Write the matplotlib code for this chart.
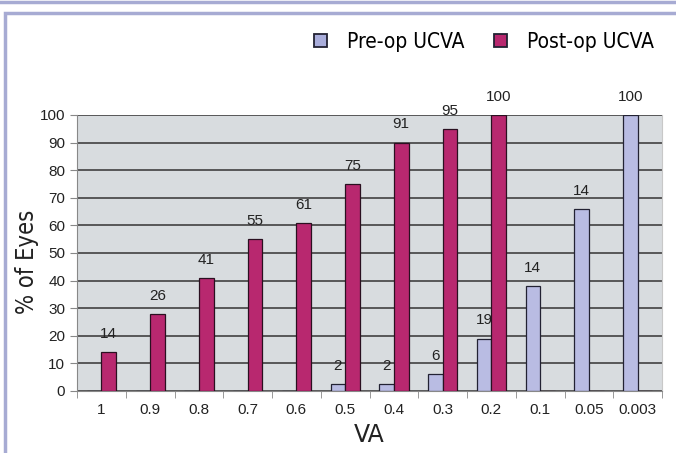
import numpy as np
import matplotlib
matplotlib.use("Agg")
from matplotlib import pyplot as plt
from matplotlib.patches import Rectangle
from matplotlib.lines import Line2D
from matplotlib.font_manager import FontProperties

# data
categories = ["1", "0.9", "0.8", "0.7", "0.6", "0.5", "0.4", "0.3", "0.2", "0.1", "0.05", "0.003"]
pre_op = [0, 0, 0, 0, 0, 2.4, 2.4, 6, 19, 38, 66, 100]
post_op = [14, 28, 41, 55, 61, 75, 90, 95, 100, 0, 0, 0]
pre_labels = ["", "", "", "", "", "2", "2", "6", "19", "14", "14", "100"]
post_labels = ["14", "26", "41", "55", "61", "75", "91", "95", "100", "", "", ""]

pre_col = "#b9bce3"
post_col = "#b8286f"
frame_col = "#a7abd3"
txt = "#222222"

plt.rcParams["font.family"] = ["Liberation Sans", "DejaVu Sans"]

fig = plt.figure(figsize=(6.76, 4.53), dpi=100)

# outer frame
fig.add_artist(Line2D([0, 1], [1 - 1.5/453, 1 - 1.5/453], color=frame_col, lw=2.5))
fig.add_artist(Rectangle((5/676, -0.1), 1.2, 1.1 - 13/453, transform=fig.transFigure,
                         fill=False, edgecolor=frame_col, lw=2.5))

ax = fig.add_axes([77/676, 62/453, 585/676, 276/453])
ax.set_facecolor("#d8dcdf")

x = np.arange(len(categories))
w = 0.3
ax.bar(x - w/2, pre_op, w, color=pre_col, edgecolor="#222233", linewidth=0.9, zorder=3)
ax.bar(x + w/2, post_op, w, color=post_col, edgecolor="#2a1020", linewidth=0.9, zorder=3)

for i in range(len(categories)):
    if pre_labels[i]:
        ax.annotate(pre_labels[i], (x[i] - w/2, pre_op[i]), xytext=(0, 8), textcoords="offset points",
                    ha="center", va="bottom", fontsize=11, color=txt, annotation_clip=False)
    if post_labels[i]:
        ax.annotate(post_labels[i], (x[i] + w/2, post_op[i]), xytext=(0, 8), textcoords="offset points",
                    ha="center", va="bottom", fontsize=11, color=txt, annotation_clip=False)

ax.set_xlim(-0.5, len(categories) - 0.5)
ax.set_ylim(0, 100)
ax.set_yticks(np.arange(0, 101, 10))
ax.yaxis.grid(True, color="#4d4d4d", lw=1.3, zorder=1)
ax.set_axisbelow(True)
ax.set_xticks(x)
ax.set_xticklabels(categories)
ax.set_xticks(np.arange(-0.5, len(categories)), minor=True)
ax.tick_params(axis="x", which="major", length=0, labelsize=11, pad=9, colors=txt)
ax.tick_params(axis="x", which="minor", length=5, color="#888888")
ax.tick_params(axis="y", length=5, color="#888888", labelsize=11, labelcolor=txt)
ax.spines["top"].set_visible(False)
ax.spines["left"].set_color("#888888")
ax.spines["bottom"].set_color("#888888")
ax.spines["right"].set_color("#c8c8c8")

ax.set_ylabel("% of Eyes", fontsize=17, color=txt, family="DejaVu Sans", stretch="condensed")
ax.yaxis.set_label_coords(-38/585, 0.467)
ax.set_xlabel("VA", fontsize=17, color=txt, family="DejaVu Sans", labelpad=4)

handles = [Rectangle((0, 0), 1, 1, facecolor="#a9addb", edgecolor="#222233", lw=1.3),
           Rectangle((0, 0), 1, 1, facecolor=post_col, edgecolor="#222233", lw=1.3)]
fig.legend(handles, ["Pre-op UCVA", "Post-op UCVA"], loc="center right",
           bbox_to_anchor=(673/676, 1 - 42/453), ncol=2, frameon=False,
           prop=FontProperties(family="DejaVu Sans", stretch="condensed", size=15),
           handlelength=0.63, handleheight=0.63, handletextpad=0.95, columnspacing=1.45)

fig.savefig("out.png", dpi=100)
